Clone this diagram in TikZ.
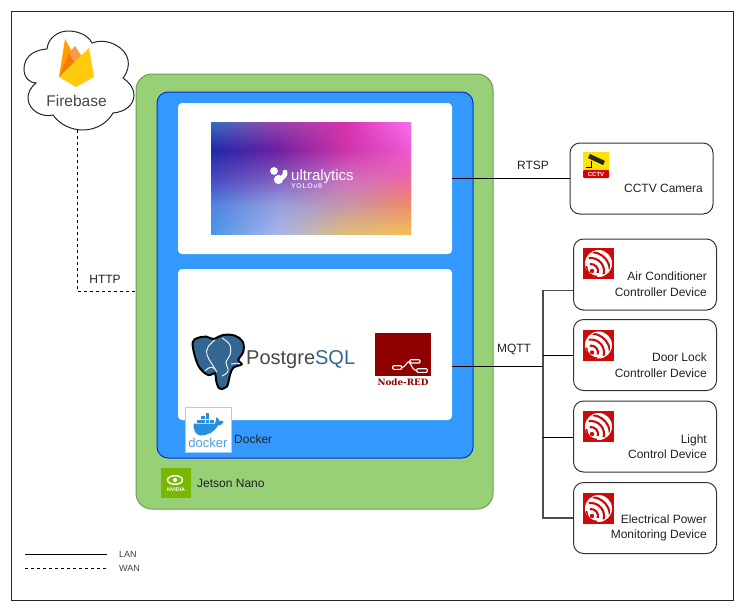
\documentclass[tikz,border=0pt]{standalone}
\usepackage{fontspec}
\setmainfont{Liberation Sans}
\newfontfamily\slabfont{DejaVu Serif}
\newfontfamily\yolofont[LetterSpace=9]{Liberation Sans}
\usetikzlibrary{calc}
\definecolor{jetgreen}{HTML}{97D077}
\definecolor{jetline}{HTML}{6A9F50}
\definecolor{dockblue}{HTML}{3399FF}
\definecolor{dockline}{HTML}{0A2BD8}
\definecolor{txt}{HTML}{222222}
\definecolor{espred}{HTML}{CC0A0A}
\definecolor{nodered}{HTML}{8F0000}
\definecolor{pgblue}{HTML}{336791}
\definecolor{whale}{HTML}{2B8FE0}
\definecolor{nvgreen}{HTML}{76B900}
\definecolor{fbamber}{HTML}{FFA000}
\definecolor{fbdark}{HTML}{F57C00}
\definecolor{fbpeak}{HTML}{F79A45}
\definecolor{fbyellow}{HTML}{FFCA10}
\tikzset{
  x=1pt,y=-1pt,
  box/.style={draw=#1,rounded corners=12pt,inner sep=0pt},
  device/.style={draw=black!80,line width=1pt,fill=white,rounded corners=10pt,minimum width=143pt,minimum height=71pt,inner sep=0pt},
  panel/.style={fill=white,rounded corners=4pt,minimum width=274pt,minimum height=151pt,inner sep=0pt},
  lbl/.style={text=txt,font=\fontsize{12}{15.5}\selectfont,inner sep=0pt},
  devtext/.style={lbl,align=right,anchor=east},
  link/.style={draw=black,line width=1pt},
  bus/.style={draw=black!70,line width=1.2pt},
  wan/.style={draw=black,line width=1pt,dash pattern=on 3pt off 3pt},
  esp/.pic={
    \fill[espred] (0,0) rectangle (31,31);
    \fill[white] (15.5,15.5) circle[radius=13.5];
    \begin{scope}
      \clip (15.5,15.5) circle[radius=12.5];
      \foreach \r in {7,13,19}{
        \draw[espred,line width=2.1pt] ($(8,23)+(-100:\r)$) arc[start angle=-100,end angle=15,radius=\r];
      }
    \end{scope}
    \fill[espred] (9,23) circle[radius=2.2];
    \draw[espred,line width=1.4pt] (3.5,18) .. controls (4,25) and (8,28) .. (14,28.5);
  }
}
\begin{document}
\begin{tikzpicture}
\useasboundingbox (0,0) rectangle (743,611);
\fill[white] (0,0) rectangle (743,611);
\node[draw=black!85,line width=1pt,minimum width=722pt,minimum height=589pt,inner sep=0pt] (frame) at (372,305.5) {};

% Jetson, Docker, panels
\node[box=jetline,fill=jetgreen,line width=1pt,rounded corners=16pt,minimum width=357pt,minimum height=435pt] (jetson) at (314.5,291.5) {};
\node[box=dockline,fill=dockblue,line width=1pt,rounded corners=11pt,minimum width=316pt,minimum height=366pt] (docker) at (315,275) {};
\node[panel] (panelA) at (315,178.5) {};
\node[panel] (panelB) at (315,344.5) {};

% YOLO gradient: rows of horizontal shadings
\def\RA{{60,150,215,248, 30,110,205,238, 70,130,205,238, 80,150,198,240, 70,170,222,245}}
\def\GA{{110,70,50,110, 40,30,50,90, 70,90,110,100, 130,160,150,140, 150,180,190,190}}
\def\BA{{190,170,170,240, 170,160,170,210, 190,190,190,170, 225,225,170,100, 235,235,120,90}}
\foreach \j in {0,...,55}{
  \pgfmathsetmacro\vv{(\j+.5)/56*4}
  \pgfmathtruncatemacro\rr{floor(\vv)}
  \pgfmathsetmacro\fv{\vv-\rr}
  \foreach \cc in {0,1,2,3}{
    \pgfmathtruncatemacro\ka{\rr*4+\cc}
    \pgfmathtruncatemacro\kc{\ka+4}
    \pgfmathsetmacro\cR{((1-\fv)*\RA[\ka]+\fv*\RA[\kc])/255}
    \pgfmathsetmacro\cG{((1-\fv)*\GA[\ka]+\fv*\GA[\kc])/255}
    \pgfmathsetmacro\cB{((1-\fv)*\BA[\ka]+\fv*\BA[\kc])/255}
    \expandafter\xdef\csname col\cc\endcsname{\cR,\cG,\cB}
  }
  \edef\shspec{rgb(0bp)=(\csname col0\endcsname);rgb(25bp)=(\csname col0\endcsname);rgb(41.67bp)=(\csname col1\endcsname);rgb(58.33bp)=(\csname col2\endcsname);rgb(75bp)=(\csname col3\endcsname);rgb(100bp)=(\csname col3\endcsname)}
  \edef\tmpdecl{\noexpand\pgfdeclarehorizontalshading{yolorow\j}{100bp}{\shspec}}
  \tmpdecl
  \pgfmathsetmacro\ya{122+2*\j}
  \pgfmathsetmacro\yb{min(\ya+2.5,234)}
  \shade[shading=yolorow\j] (211,\ya) rectangle (411,\yb);
}
% Ultralytics mark
\fill[white] (274,171) circle[radius=3.9];
\fill[white] (278.5,179.5) circle[radius=4.6];
\draw[white,line width=4.6pt,line cap=round] (279,179) .. controls (283,178) and (286,175) .. (285,172);
\node[text=white,font=\fontsize{15}{15}\selectfont,inner sep=0pt,anchor=west] (ultra) at (291,176.5) {ultralytics};
\node[text=white!88!blue,font=\yolofont\bfseries\fontsize{7}{7}\selectfont,inner sep=0pt,anchor=west] (yolo) at (291,186.5) {YOLOv8};

% PostgreSQL
\draw[black,line width=2pt,fill=pgblue] plot[smooth cycle,tension=.6] coordinates {(192.7,342.3) (198.3,337.7) (206.7,336.7) (213.3,339) (223.3,335) (235,335.7) (242.7,341.7) (243.3,351.7) (238.3,360) (241.7,364.3) (233.3,367.7) (230,375) (226.7,386.7) (219.3,388.3) (216,380) (215,373.3) (208.3,375) (200,368.3) (195,356.7)};
\draw[white,line width=.9pt] plot[smooth,tension=.7] coordinates {(215,340) (208,347) (207,355) (212,364) (217,372)};
\draw[white,line width=.9pt] plot[smooth,tension=.7] coordinates {(222,338) (230,345) (230,355) (226,362) (228,371) (222,376)};
\draw[white,line width=.9pt] (205,371) .. controls (209,366) and (213,367) .. (215,369);
\draw[white,line width=.9pt] (231,364) .. controls (235,364) and (238,362) .. (240,364);
\node[anchor=west,inner sep=0pt,font=\fontsize{20}{20}\selectfont,text=black!72] (pgsql) at (246,360) {Postgre\textcolor{pgblue}{SQL}};

% Node-RED
\node[fill=nodered,minimum width=56pt,minimum height=43pt,inner sep=0pt] (nred) at (403,354.5) {};
\node[text=nodered,font=\slabfont\bfseries\fontsize{8.8}{9}\selectfont,inner sep=0pt] (nredtxt) at (403,382.5) {Node-RED};
\draw[white,line width=1.1pt,rounded corners=1pt] (392.7,365.7) rectangle (401.7,369.3);
\draw[white,line width=1.1pt,rounded corners=1pt] (410,359.7) rectangle (420,363);
\draw[white,line width=1.1pt,rounded corners=1pt] (416.7,368.7) rectangle (427.3,372.3);
\draw[white,line width=1.1pt] (401.7,367.5) .. controls (406,367.5) and (406,361.3) .. (410,361.3);
\draw[white,line width=1.1pt] (409,362) .. controls (412,366) and (413,370.5) .. (416.7,370.5);

% Docker logo
\node[draw=dockblue!45,line width=1pt,fill=white,minimum width=46pt,minimum height=45pt,inner sep=0pt] (dlogo) at (208,429.5) {};
\foreach \x/\y in {197/419.8,201.3/419.8,205.6/419.8,209.9/419.8,201.3/416.4,205.6/416.4,205.6/413}
  \fill[whale] (\x,\y) rectangle +(3.6,3);
\fill[whale] (193.5,423.5) -- (215,423.5) .. controls (216,421) and (216,419) .. (216.5,417) .. controls (218,418) and (219,420) .. (219.5,421) .. controls (221,420.5) and (222.5,420.5) .. (223.5,421.5) .. controls (222,425) and (220,425.5) .. (218,425.5) .. controls (214,433) and (206,435.5) .. (201,435.5) .. controls (196,435.5) and (193,430) .. (193.5,423.5) -- cycle;
\node[text=whale!85!white,font=\fontsize{13}{13}\selectfont,inner sep=0pt] (dlogotxt) at (208,442.5) {docker};
\node[lbl,anchor=west] (dockerlbl) at (234,439) {Docker};

% Jetson logo
\node[fill=nvgreen,minimum width=30pt,minimum height=30pt,inner sep=0pt] (nlogo) at (176,483) {};
\draw[white,line width=1.5pt] (175,480) ellipse[x radius=7.5,y radius=4.3];
\fill[white] (175,480) circle[radius=2.1];
\node[text=white,font=\bfseries\fontsize{5.3}{6}\selectfont,inner sep=0pt] (nlogotxt) at (176,489.5) {NVIDIA};
\node[lbl,anchor=west] (jetsonlbl) at (197,483) {Jetson Nano};

% Firebase cloud
\draw[black!85,line width=1pt,fill=white] (47,49) .. controls (30,50) and (24,60) .. (24,69) .. controls (24,78) and (30,83) .. (36,83) .. controls (30,88) and (28,93) .. (28,98) .. controls (28,110) and (42,118) .. (53,115) .. controls (60,125) and (72,130) .. (83,130) .. controls (97,130) and (108,122) .. (113,113) .. controls (125,112) and (134,105) .. (134,95) .. controls (134,88) and (129,82) .. (123,78) .. controls (128,72) and (129,65) .. (128,60) .. controls (126,48) and (108,37) .. (92,43) .. controls (88,35) and (78,31) .. (68,31) .. controls (58,31) and (48,38) .. (47,49) -- cycle;
\fill[fbamber] (59,77) -- (65,39) -- (80,66) -- cycle;
\fill[fbpeak] (69,53) -- (75,46) -- (84,60) -- (76,68) -- cycle;
\fill[fbdark] (59,77) -- (69,53) -- (78,70) -- cycle;
\fill[fbyellow] (59,77) -- (89,48) -- (94,77) -- (76,87) -- cycle;
\node[text=black!72,font=\fontsize{15.5}{16}\selectfont,inner sep=0pt] (fb) at (76.5,101) {Firebase};
\coordinate (cloudfoot) at (77,130);

% Devices
\node[device] (cctv) at (641.5,178.5) {};
\node[device] (d1) at (645,274.5) {};
\node[device] (d2) at (645,355) {};
\node[device] (d3) at (645,436.5) {};
\node[device] (d4) at (645,518) {};
\fill[yellow!85!orange,rounded corners=1pt] (583,152) rectangle (609,171);
\fill[red!85!black,rounded corners=1pt] (583,170) rectangle (609,178);
\draw[black!85,line width=4.5pt] (589,156) -- (604,163);
\draw[black,line width=1pt] (591,161) -- (591,167) -- (586,167);
\node[text=white,font=\bfseries\fontsize{6}{6}\selectfont,inner sep=0pt] (cctvmark) at (596,174) {CCTV};
\pic at (583,248) {esp};
\pic at (583,329.5) {esp};
\pic at (583,411) {esp};
\pic at (583,493) {esp};
\node[devtext] (t0) at (703,188) {CCTV Camera};
\node[devtext] (t1) at (707,284) {Air Conditioner\\Controller Device};
\node[devtext] (t2) at (707,365) {Door Lock\\Controller Device};
\node[devtext] (t3) at (707,446.5) {Light\\Control Device};
\node[devtext] (t4) at (707,528) {Electrical Power\\Monitoring Device};

% Connectors
\draw[link] (panelA.east) -- (cctv.west);
\coordinate (jm) at (543,366);
\coordinate (j1) at (543,290.5);
\coordinate (j2) at (543,355);
\coordinate (j3) at (543,437);
\coordinate (j4) at (543,518);
\draw[link] (panelB.east |- jm) -- (jm);
\draw[bus] (d1.west |- j1) -- (j1) -- (j4) -- (d4.west |- j4);
\draw[link] (j2) -- (d2.west |- j2);
\draw[link] (j3) -- (d3.west |- j3);
\coordinate (jh) at (136,291);
\draw[wan] (cloudfoot) |- (jh);
\node[lbl] (rtsp) at (533,165) {RTSP};
\node[lbl] (mqtt) at (514,349) {MQTT};
\node[lbl] (http) at (105,279) {HTTP};

% Legend
\coordinate (la) at (25,554);
\coordinate (lb) at (107,554);
\coordinate (wa) at (25,568);
\coordinate (wb) at (107,568);
\draw[link] (la) -- (lb);
\draw[wan] (wa) -- (wb);
\node[lbl,text=black!75,font=\fontsize{9}{9}\selectfont,anchor=west] (lan) at (119,554) {LAN};
\node[lbl,text=black!75,font=\fontsize{9}{9}\selectfont,anchor=west] (wanl) at (119,568) {WAN};
\end{tikzpicture}
\end{document}
